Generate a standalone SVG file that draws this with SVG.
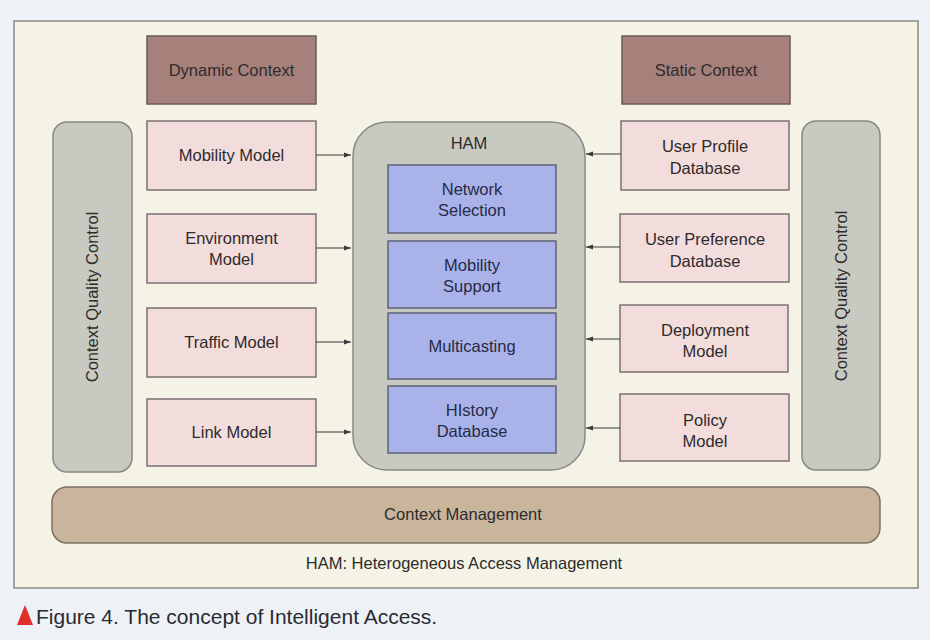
<svg xmlns="http://www.w3.org/2000/svg" width="930" height="640" viewBox="0 0 930 640">
<defs>
<marker id="ah" viewBox="0 0 10 10" refX="10" refY="5" markerWidth="7" markerHeight="7" orient="auto" markerUnits="userSpaceOnUse">
<path d="M0,1.5 L10,5 L0,8.5 Z" fill="#3a3a3a"/>
</marker>
<style>
text{font-family:"Liberation Sans",Arial,sans-serif;font-size:16.5px;fill:#2e2b2b;text-anchor:middle}
.ctx{fill:#a6807b;stroke:#6e5a56;stroke-width:1.5}
.pink{fill:#f3dcdc;stroke:#7c7070;stroke-width:1.5}
.gray{fill:#c8cac2;stroke:#878983;stroke-width:1.5}
.blue{fill:#a9b3ea;stroke:#5d6276;stroke-width:1.5}
.mgmt{fill:#c9b59c;stroke:#7d7060;stroke-width:1.5}
.bt{fill:#262a45}
.conn line{stroke:#3a3a3a;stroke-width:1.2;marker-end:url(#ah)}
</style>
</defs>
<rect x="0" y="0" width="930" height="640" fill="#eef2f6"/>
<rect id="frame" x="14" y="21" width="904" height="567" fill="#f4f3e5" stroke="#8a8a86" stroke-width="1.5"/>

<g id="dynamic-context"><rect class="ctx" x="147" y="36" width="169" height="68"/><text x="231.5" y="76">Dynamic Context</text></g>
<g id="static-context"><rect class="ctx" x="622" y="36" width="168" height="68"/><text x="706" y="76">Static Context</text></g>

<g id="cqc-left"><rect class="gray" x="53" y="122" width="79" height="350" rx="14"/><text transform="translate(98,297) rotate(-90)">Context Quality Control</text></g>
<g id="cqc-right"><rect class="gray" x="802" y="121" width="78" height="349" rx="14"/><text transform="translate(847,296) rotate(-90)">Context Quality Control</text></g>

<g id="mobility-model"><rect class="pink" x="147" y="121" width="169" height="69"/><text x="231.5" y="161">Mobility Model</text></g>
<g id="environment-model"><rect class="pink" x="147" y="214" width="169" height="69"/><text x="231.5" y="244">Environment</text><text x="231.5" y="265">Model</text></g>
<g id="traffic-model"><rect class="pink" x="147" y="308" width="169" height="69"/><text x="231.5" y="348">Traffic Model</text></g>
<g id="link-model"><rect class="pink" x="147" y="399" width="169" height="67"/><text x="231.5" y="438">Link Model</text></g>

<g id="user-profile-db"><rect class="pink" x="621" y="121" width="168" height="69"/><text x="705" y="152">User Profile</text><text x="705" y="174">Database</text></g>
<g id="user-pref-db"><rect class="pink" x="620" y="214" width="169" height="68"/><text x="705" y="245">User Preference</text><text x="705" y="267">Database</text></g>
<g id="deployment-model"><rect class="pink" x="620" y="305" width="168" height="67"/><text x="705" y="336">Deployment</text><text x="705" y="357">Model</text></g>
<g id="policy-model"><rect class="pink" x="620" y="394" width="169" height="67"/><text x="705" y="426">Policy</text><text x="705" y="447">Model</text></g>

<g id="ham"><rect class="gray" x="353" y="122" width="232" height="348" rx="34"/><text x="469" y="149">HAM</text></g>
<g id="network-selection"><rect class="blue" x="388" y="165" width="168" height="68"/><text class="bt" x="472" y="195">Network</text><text class="bt" x="472" y="216">Selection</text></g>
<g id="mobility-support"><rect class="blue" x="388" y="241" width="168" height="67"/><text class="bt" x="472" y="271">Mobility</text><text class="bt" x="472" y="292">Support</text></g>
<g id="multicasting"><rect class="blue" x="388" y="313" width="168" height="66"/><text class="bt" x="472" y="352">Multicasting</text></g>
<g id="history-db"><rect class="blue" x="388" y="386" width="168" height="67"/><text class="bt" x="472" y="416">HIstory</text><text class="bt" x="472" y="437">Database</text></g>

<g id="context-management"><rect class="mgmt" x="52" y="487" width="828" height="56" rx="15"/><text x="463" y="520">Context Management</text></g>

<g id="connectors" class="conn">
<line x1="316" y1="155" x2="351" y2="155"/>
<line x1="316" y1="248" x2="351" y2="248"/>
<line x1="316" y1="342" x2="351" y2="342"/>
<line x1="316" y1="432" x2="351" y2="432"/>
<line x1="621" y1="154" x2="586" y2="154"/>
<line x1="620" y1="247" x2="586" y2="247"/>
<line x1="620" y1="339" x2="586" y2="339"/>
<line x1="620" y1="428" x2="586" y2="428"/>
</g>

<text id="legend" x="464" y="569">HAM: Heterogeneous Access Management</text>
<g id="caption">
<polygon points="17,625 25,605 33,625" fill="#e0302a"/>
<text x="36" y="624" style="font-size:21px;text-anchor:start;fill:#2a2a33">Figure 4. The concept of Intelligent Access.</text>
</g>
</svg>
